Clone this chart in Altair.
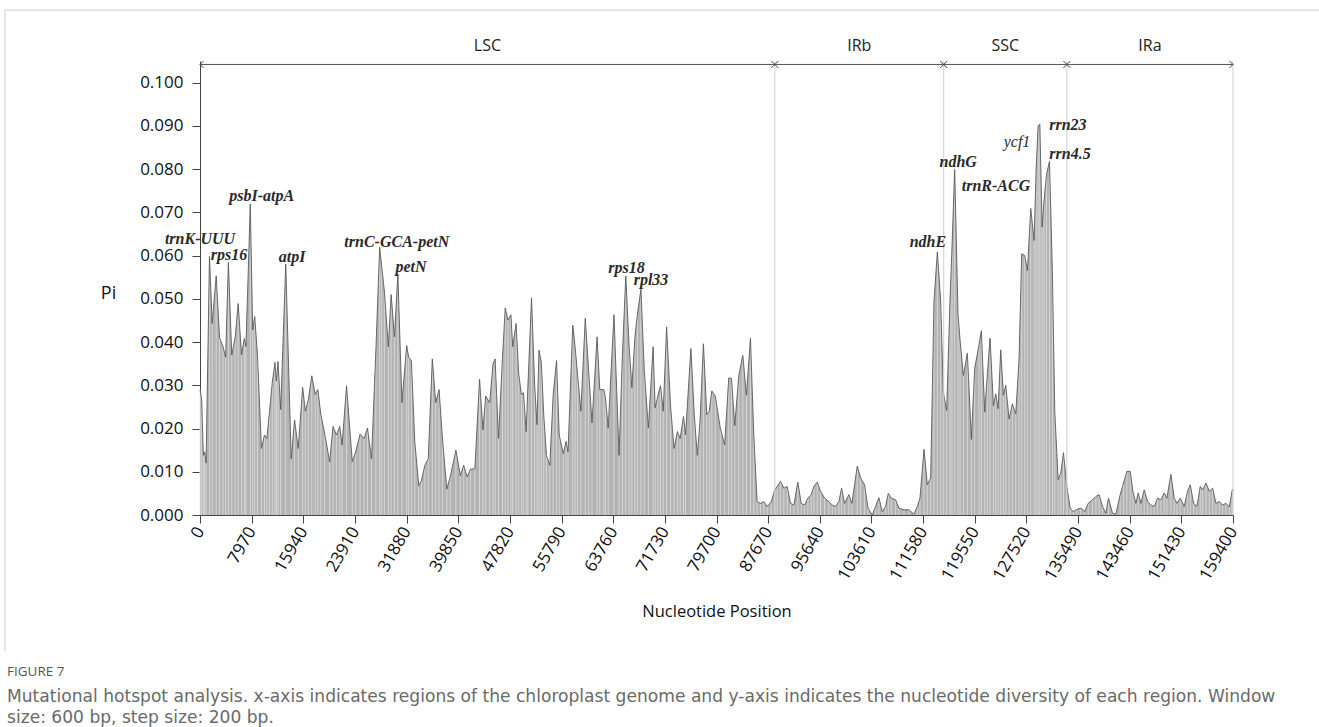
import altair as alt
import pandas as pd

# ---------------- data ----------------
POS = [0, 250, 520, 730, 940, 1460, 1880, 2500, 3020, 3540, 3960, 4380, 4900, 5420, 5890,
       6410, 6830, 7090, 7760, 8130, 8440, 8860, 9480, 9950, 10320, 10730, 11150, 11570,
       11780, 12040, 12450, 13230, 14070, 14590, 15160, 15840, 16260, 16720, 17250, 17770,
       18180, 18650, 19230, 20010, 20530, 21050, 21570, 21930, 22610, 23500, 24020, 24700,
       25320, 25840, 26470, 27140, 27720, 28030, 28450, 29070, 29490, 30010, 30530, 31160,
       31890, 32200, 32620, 33140, 33760, 34180, 34700, 35220, 35850, 36370, 36890, 37410,
       38090, 38610, 39490, 40170, 40690, 41210, 41730, 42410, 43140, 43660, 44080, 44700,
       45220, 45540, 46060, 46680, 47100, 47520, 47980, 48250, 48770, 49180, 49600, 49910,
       50330, 50590, 51160, 51630, 52000, 52310, 52670, 53040, 53460, 53980, 54500, 55020,
       55430, 56060, 56480, 56790, 57520, 57880, 58250, 58770, 59450, 59970, 60490, 61270,
       61690, 62310, 62570, 62990, 63880, 64660, 65180, 65700, 66220, 66640, 67110, 67520,
       68040, 68560, 69190, 69920, 70230, 70650, 71060, 71480, 72000, 72630, 73150, 73670,
       74090, 74610, 74920, 75750, 76270, 76740, 77160, 77680, 78200, 78570, 78980, 79510,
       80290, 80960, 81590, 82010, 82520, 83140, 83760, 84320, 84940, 85460, 85970, 86490,
       87000, 87520, 88130, 88700, 89060, 89580, 90090, 90610, 91120, 91640, 92250, 92770,
       93280, 93800, 94310, 94720, 95240, 95750, 96370, 97040, 97560, 98070, 98590, 99000,
       99460, 100130, 100590, 101420, 101930, 102550, 103070, 103740, 104250, 104760, 105280,
       105790, 106210, 106670, 107340, 107850, 108630, 109400, 110170, 110690, 111100, 111720,
       112230, 112750, 113260, 113780, 114290, 114700, 115220, 115730, 116040, 116450, 116970,
       117280, 117790, 118410, 119030, 119540, 120210, 120570, 121090, 121500, 121910, 122430,
       122790, 123150, 123560, 123970, 124330, 124850, 125360, 125880, 126390, 126800, 127270,
       127680, 128190, 128710, 129020, 129330, 129590, 129950, 130250, 130620, 131080, 131540,
       131900, 132420, 132830, 133240, 133760, 134270, 134790, 135300, 135920, 136540, 137050,
       137720, 138240, 138750, 139260, 139780, 140190, 140810, 141320, 141990, 142510, 143020,
       143540, 143950, 144410, 144770, 145190, 145700, 146220, 146730, 147250, 147760, 148280,
       148790, 149200, 149820, 150330, 150750, 151260, 151880, 152390, 152810, 153320, 153840,
       154350, 154710, 155230, 155740, 156260, 156770, 157290, 157800, 158320, 158830, 159240,
       159400]
PI = [0.029, 0.027, 0.0138, 0.0146, 0.012, 0.0598, 0.0443, 0.0553, 0.041, 0.039, 0.0365,
      0.0584, 0.037, 0.041, 0.0489, 0.037, 0.0408, 0.039, 0.0719, 0.0428, 0.0459, 0.0373,
      0.0154, 0.0185, 0.0177, 0.024, 0.0306, 0.0353, 0.031, 0.0355, 0.0244, 0.058, 0.013,
      0.022, 0.0154, 0.0295, 0.024, 0.0267, 0.0322, 0.0279, 0.029, 0.0232, 0.0189, 0.0123,
      0.0205, 0.0185, 0.0205, 0.0162, 0.0299, 0.0123, 0.0146, 0.0187, 0.0177, 0.0201, 0.013,
      0.0381, 0.0619, 0.0576, 0.0518, 0.0389, 0.051, 0.0412, 0.0557, 0.026, 0.0392, 0.0365,
      0.0357, 0.017, 0.0068, 0.008, 0.0115, 0.013, 0.0361, 0.026, 0.029, 0.0177, 0.006,
      0.0088, 0.015, 0.0091, 0.0115, 0.0088, 0.0106, 0.0107, 0.0314, 0.0197, 0.0275, 0.026,
      0.035, 0.0361, 0.0177, 0.0365, 0.0479, 0.0451, 0.0463, 0.0389, 0.0443, 0.0326, 0.0279,
      0.0283, 0.0193, 0.0295, 0.0502, 0.0303, 0.0209, 0.0381, 0.0353, 0.0232, 0.0138, 0.0115,
      0.0279, 0.0357, 0.0185, 0.0142, 0.017, 0.0146, 0.0439, 0.0389, 0.0326, 0.024, 0.0455,
      0.0334, 0.0213, 0.0412, 0.029, 0.029, 0.0271, 0.0201, 0.0463, 0.0138, 0.0369, 0.0553,
      0.0389, 0.0295, 0.0412, 0.0467, 0.0522, 0.0334, 0.0201, 0.0389, 0.0248, 0.0275, 0.0299,
      0.024, 0.0435, 0.0248, 0.0154, 0.0193, 0.0177, 0.0228, 0.0185, 0.0385, 0.0232, 0.0138,
      0.0217, 0.0396, 0.0232, 0.024, 0.0287, 0.0275, 0.0201, 0.0162, 0.0317, 0.0316, 0.0207,
      0.0323, 0.0369, 0.0277, 0.0409, 0.0183, 0.0031, 0.0027, 0.0031, 0.002, 0.003, 0.0058,
      0.0066, 0.0078, 0.0062, 0.0066, 0.0027, 0.0023, 0.0076, 0.0027, 0.0023, 0.0039, 0.0047,
      0.0066, 0.0076, 0.0055, 0.0039, 0.0031, 0.0023, 0.002, 0.0031, 0.0062, 0.0027, 0.0047,
      0.0027, 0.0113, 0.0086, 0.007, 0.0016, 0.0, 0.002, 0.004, 0.0008, 0.002, 0.005, 0.0039,
      0.0035, 0.0016, 0.0012, 0.0012, 0.0002, 0.002, 0.0039, 0.0152, 0.007, 0.0086, 0.0495,
      0.0608, 0.0495, 0.0284, 0.0242, 0.0495, 0.062, 0.0799, 0.0464, 0.0405, 0.0323, 0.0374,
      0.0175, 0.0339, 0.0394, 0.0426, 0.0238, 0.0327, 0.0409, 0.0253, 0.028, 0.0246, 0.0382,
      0.0277, 0.03, 0.0222, 0.0257, 0.0234, 0.0362, 0.0604, 0.06, 0.0565, 0.0709, 0.0635,
      0.0799, 0.09, 0.0904, 0.0666, 0.0729, 0.0787, 0.0818, 0.0557, 0.0238, 0.0082, 0.0097,
      0.0144, 0.0066, 0.0016, 0.0008, 0.0013, 0.0016, 0.0008, 0.0027, 0.0035, 0.0043, 0.0047,
      0.002, 0.0004, 0.0039, 0.0004, 0.0002, 0.0047, 0.0074, 0.0101, 0.0101, 0.0055, 0.0027,
      0.0051, 0.0027, 0.0058, 0.0031, 0.0023, 0.002, 0.0039, 0.0035, 0.0051, 0.0039, 0.0094,
      0.0039, 0.0027, 0.0039, 0.002, 0.0055, 0.007, 0.0027, 0.002, 0.0066, 0.0058, 0.0074,
      0.0055, 0.0062, 0.0027, 0.0031, 0.0023, 0.0027, 0.0019, 0.0055, 0.006]

REGION_NAMES = ["LSC", "IRb", "SSC", "IRa"]
REGION_START = [0, 88700, 114760, 133760]
REGION_END = [88700, 114760, 133760, 159400]

GENE_NAMES = ["trnK-UUU", "rps16", "psbI-atpA", "atpI", "trnC-GCA-petN", "petN", "rps18",
              "rpl33", "ndhE", "ndhG", "trnR-ACG", "ycf1", "rrn23", "rrn4.5"]
GENE_POS = [0, 4480, 9520, 14200, 30370, 32560, 65810, 69590, 112330, 117000, 122830,
            126070, 133930, 134240]
GENE_PI = [0.0639, 0.0602, 0.0738, 0.0596, 0.0632, 0.0574, 0.0571, 0.0543, 0.0631, 0.0816,
           0.0762, 0.0863, 0.0901, 0.0834]
GENE_BOLD = [True, True, True, True, True, True, True, True, True, True, True, False, True, True]

X_TICKS = [0, 7970, 15940, 23910, 31880, 39850, 47820, 55790, 63760, 71730, 79700, 87670,
           95640, 103610, 111580, 119550, 127520, 135490, 143460, 151430, 159400]
Y_TICKS = [0.0, 0.01, 0.02, 0.03, 0.04, 0.05, 0.06, 0.07, 0.08, 0.09, 0.1]

X_TITLE = "Nucleotide Position"
Y_TITLE = "Pi"
FIG_LABEL = "FIGURE 7"
CAPTION = ["Mutational hotspot analysis. x-axis indicates regions of the chloroplast genome "
           "and y-axis indicates the nucleotide diversity of each region. Window",
           "size: 600 bp, step size: 200 bp."]

# ---------------- chart ----------------
W, H = 1033, 454
SANS = "Open Sans"
CAP_FONT = "DejaVu Sans"
ARROW_PI = 0.1042

df = pd.DataFrame({"pos": POS, "pi": PI})
reg = pd.DataFrame({"name": REGION_NAMES, "start": REGION_START, "end": REGION_END})
genes = pd.DataFrame({"gene": GENE_NAMES, "pos": GENE_POS, "pi": GENE_PI, "bold": GENE_BOLD})

xs = alt.Scale(domain=[0, 159400], nice=False, zero=False)
ys = alt.Scale(domain=[0, 0.105], nice=False)

x_axis = alt.Axis(values=X_TICKS, format="d", labelAngle=300, labelAlign="right",
                  labelBaseline="middle", labelPadding=5, tickSize=8, grid=False,
                  labelFontSize=17,
                  title=X_TITLE, titleY=88, titleFontSize=16.5, titleFontWeight="normal",
                  titleFont=SANS, titleColor="#111")
y_axis = alt.Axis(values=Y_TICKS, format=".3f", tickSize=8, labelPadding=9, grid=False,
                  labelFontSize=17,
                  title=Y_TITLE, titleAngle=0, titleX=-92, titleY=232, titleAlign="center",
                  titleBaseline="middle", titleFontSize=18, titleFontWeight="normal",
                  titleFont=SANS, titleColor="#111")

base = alt.Chart(df)
area = base.mark_area(color="#b3b3b3", interpolate="linear").encode(
    x=alt.X("pos:Q", scale=xs, axis=x_axis),
    y=alt.Y("pi:Q", scale=ys, axis=y_axis),
)
stripes = base.mark_rule(color="#e4e4e4", strokeWidth=0.8, opacity=0.9).encode(
    x=alt.X("pos:Q", scale=xs), y=alt.Y("pi:Q", scale=ys), y2=alt.datum(0)
)
outline = base.mark_line(color="#5a5a5a", strokeWidth=0.9, interpolate="linear").encode(
    x=alt.X("pos:Q", scale=xs), y=alt.Y("pi:Q", scale=ys)
)

rbase = alt.Chart(reg)
vlines = rbase.mark_rule(color="#cfcfcf", strokeWidth=1).encode(
    x=alt.X("end:Q", scale=xs), y=alt.value(0), y2=alt.value(H)
)
arrows = rbase.mark_rule(color="#555555", strokeWidth=1).encode(
    x=alt.X("start:Q", scale=xs), x2="end:Q", y=alt.datum(ARROW_PI)
)
left_heads = rbase.mark_point(shape="M1,-1L0,0L1,1", size=49, filled=False,
                              stroke="#444444", strokeWidth=1, opacity=1).encode(
    x=alt.X("start:Q", scale=xs), y=alt.datum(ARROW_PI)
)
right_heads = rbase.mark_point(shape="M-1,-1L0,0L-1,1", size=49, filled=False,
                               stroke="#444444", strokeWidth=1, opacity=1).encode(
    x=alt.X("end:Q", scale=xs), y=alt.datum(ARROW_PI)
)
rlabels = rbase.transform_calculate(mid="(datum.start + datum.end) / 2").mark_text(
    font=SANS, fontSize=16, color="#222222", dy=-18
).encode(x=alt.X("mid:Q", scale=xs), y=alt.datum(ARROW_PI), text="name:N")

gbase = alt.Chart(genes)
glabels_bold = gbase.transform_filter("datum.bold").mark_text(
    font="Liberation Serif", fontStyle="italic", fontWeight="bold", fontSize=16,
    color="#2a2a2a", baseline="middle"
).encode(x=alt.X("pos:Q", scale=xs), y=alt.Y("pi:Q", scale=ys), text="gene:N")
glabels_plain = gbase.transform_filter("!datum.bold").mark_text(
    font="Liberation Serif", fontStyle="italic", fontSize=16,
    color="#2a2a2a", baseline="middle"
).encode(x=alt.X("pos:Q", scale=xs), y=alt.Y("pi:Q", scale=ys), text="gene:N")

cap_df = pd.DataFrame({"t": [FIG_LABEL]})
fig_label = alt.Chart(cap_df).mark_text(
    font=SANS, fontSize=13.5, color="#555555", align="left", baseline="middle"
).encode(x=alt.value(-193), y=alt.value(611), text="t:N")
cap1 = alt.Chart(pd.DataFrame({"t": [CAPTION[0]]})).mark_text(
    font=CAP_FONT, fontSize=17.1, color="#6a6a6a", align="left", baseline="middle"
).encode(x=alt.value(-193), y=alt.value(636), text="t:N")
cap2 = alt.Chart(pd.DataFrame({"t": [CAPTION[1]]})).mark_text(
    font=CAP_FONT, fontSize=17.1, color="#6a6a6a", align="left", baseline="middle"
).encode(x=alt.value(-193), y=alt.value(657), text="t:N")

frame_top = alt.Chart(cap_df).mark_rule(stroke="#dddddd", strokeWidth=1.5).encode(
    x=alt.value(-195), x2=alt.value(W + 200), y=alt.value(-51)
)
frame_left = alt.Chart(cap_df).mark_rule(stroke="#dddddd", strokeWidth=1.5).encode(
    x=alt.value(-195), y=alt.value(-51), y2=alt.value(590)
)

chart = alt.layer(
    frame_top, frame_left, area, stripes, outline, vlines, arrows, left_heads, right_heads,
    rlabels, glabels_bold, glabels_plain, fig_label, cap1, cap2
).properties(
    width=W, height=H,
    padding={"left": 200, "top": 61, "right": 86, "bottom": 212},
    autosize=alt.AutoSizeParams(type="none"),
    background="white",
).configure_view(stroke=None).configure_axis(
    domainColor="#444444", tickColor="#444444", labelColor="#111111",
    labelFont=SANS,
)

chart.save("out.html", embed_options={"renderer": "svg", "actions": False})
